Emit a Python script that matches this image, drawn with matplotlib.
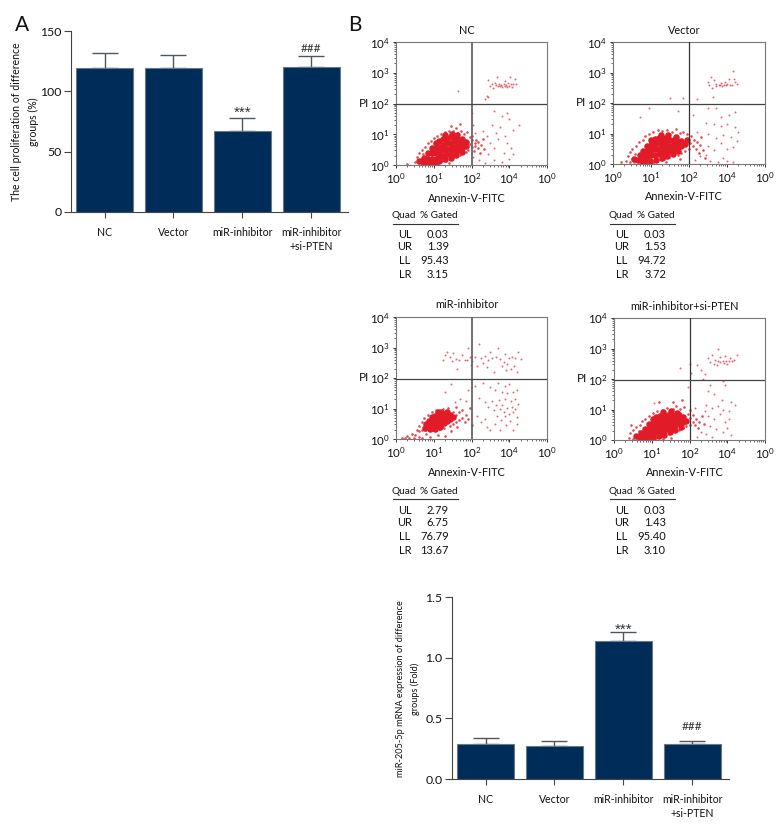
import matplotlib
matplotlib.use("Agg")
import matplotlib.pyplot as plt
import numpy as np

plt.rcParams["font.family"] = ["Lato", "Liberation Sans", "DejaVu Sans"]
plt.rcParams["mathtext.default"] = "regular"

W, H = 780, 840

GROUPS = ["NC", "Vector", "miR-inhibitor", "miR-inhibitor\n+si-PTEN"]
PROLIF = [119, 119, 67, 120]
PROLIF_TOP = [132, 130, 78, 129]
MIR = [0.29, 0.27, 1.135, 0.285]
MIR_TOP = [0.335, 0.31, 1.21, 0.315]

X_DECADES = ["$10^0$", "$10^1$", "$10^2$", "$10^4$", "$10^0$"]
Y_DECADES = ["$10^0$", "$10^1$", "$10^2$", "$10^3$", "$10^4$"]
QUADS = ["UL", "UR", "LL", "LR"]
NC_GATED = ["0.03", "1.39", "95.43", "3.15"]
VECTOR_GATED = ["0.03", "1.53", "94.72", "3.72"]
INHIB_GATED = ["2.79", "6.75", "76.79", "13.67"]
PTEN_GATED = ["0.03", "1.43", "95.40", "3.10"]

# flow plots, in decades. core = saturated part of the cloud, drawn with fat dots
NC_CORE = [(.62,.14),(.72,.1),(.82,.08),(.92,.08),(1.02,.08),(1.15,.12),(1.3,.18),(1.45,.24),(1.6,.32),(1.75,.42),
           (.75,.22),(.85,.2),(.85,.38),(.95,.2),(.95,.38),(.95,.55),(1.05,.2),(1.05,.38),(1.05,.55),(1.05,.7),
           (1.15,.25),(1.15,.42),(1.15,.6),(1.15,.78),(1.25,.3),(1.25,.48),(1.25,.65),(1.25,.85),(1.35,.35),(1.35,.52),
           (1.35,.7),(1.35,.88),(1.45,.38),(1.45,.55),(1.45,.72),(1.45,.9),(1.55,.42),(1.55,.6),(1.55,.78),(1.55,.9),
           (1.65,.5),(1.65,.65),(1.65,.82),(1.75,.55),(1.75,.72),(1.75,.85),(1.85,.62),(1.85,.75),(1.3,.98),(1.48,1.02),(1.62,.98)]
NC_HALO = [(.5,.1),(.55,.25),(.6,.05),(.6,.38),(.65,.18),(.68,.5),(.7,.08),(.72,.35),(.78,.6),(.82,.05),(.85,.7),(.9,.04),
           (.92,.78),(1,.08),(1,.88),(1.08,.95),(1.1,.06),(1.18,1),(1.22,.12),(1.3,1.08),(1.32,.14),(1.4,1.12),(1.42,.2),
           (1.5,1.1),(1.52,.25),(1.58,1.2),(1.6,.3),(1.65,1.05),(1.7,.32),(1.72,1.12),(1.78,.38),(1.8,1.02),(1.85,.42),
           (1.88,1.08),(1.92,.5),(1.95,.68),(1.95,.9),(2,.58),(2,.8),(2.02,.95),(2.06,.45),(2.08,.7),(2.1,.62),(2.12,.82),
           (2.16,.55),(2.18,.75),(2.22,.4),(2.25,.65),(2.3,.85),(2.32,.52),(1.45,1.28),(1.7,1.32),(.3,.03),(.95,.02),(1.4,.08)]
NC_SPARSE = [(2.45,2.75),(2.5,2.58),(2.55,2.62),(2.58,2.5),(2.62,2.68),(2.65,2.6),(2.68,2.85),(2.7,2.56),(2.72,2.62),
             (2.75,2.58),(2.78,2.6),(2.82,2.55),(2.85,2.62),(2.88,2.57),(2.9,2.72),(2.92,2.6),(2.95,2.53),(2.98,2.66),
             (3,2.58),(3.02,2.85),(3.05,2.62),(3.08,2.55),(3.1,2.65),(3.14,2.8),(3.18,2.62),(2.35,2.15),(2.45,2.2),(2.4,2.25),
             (1.65,2.4),(2.6,1.75),(2.8,1.6),(2.95,1.7),(3,1.5),(2.55,1.3),(2.65,1.05),(2.75,1.25),(2.9,.95),(3.1,1.15),
             (3.25,1.3),(2.5,.7),(2.6,.55),(2.7,.85),(2.85,.4),(2.95,.7),(3.05,.55),(3.1,.35),(2.45,.35),(2.6,.15),(2.8,.1),
             (3,.2),(2.05,.25),(2.2,.15),(2.35,.08),(2.4,.95),(2.3,1.1),(2.1,1.05),(2.02,1.7),(2.05,1.3)]

VECTOR_CORE = [(.55,.15),(.65,.12),(.75,.1),(.85,.1),(.98,.1),(1.12,.14),(1.28,.2),(1.42,.26),(1.58,.34),(1.72,.42),
               (.7,.28),(.8,.25),(.8,.42),(.9,.25),(.9,.42),(.9,.58),(1,.28),(1,.45),(1,.62),(1,.78),(1.1,.3),(1.1,.48),
               (1.1,.65),(1.1,.82),(1.2,.32),(1.2,.5),(1.2,.68),(1.2,.85),(1.3,.35),(1.3,.52),(1.3,.7),(1.3,.85),(1.4,.38),
               (1.4,.55),(1.4,.72),(1.4,.85),(1.5,.42),(1.5,.6),(1.5,.78),(1.6,.48),(1.6,.65),(1.6,.8),(1.7,.55),(1.7,.72),
               (1.8,.6),(1.8,.75),(1.9,.65),(1.95,.78),(1.25,.95),(1.45,.95),(1.65,.9)]
VECTOR_HALO = [(.35,.1),(.4,.25),(.45,.05),(.45,.38),(.5,.18),(.5,.5),(.55,.08),(.58,.32),(.6,.6),(.65,.05),(.68,.72),(.75,.04),
               (.78,.8),(.85,.06),(.85,.92),(.95,1),(1,.08),(1.05,1.05),(1.12,.12),(1.18,1.1),(1.25,.12),(1.3,1.08),(1.35,.18),
               (1.42,1.12),(1.48,.22),(1.55,1.05),(1.6,.28),(1.65,1.15),(1.7,.3),(1.75,1.02),(1.8,.35),(1.85,1.05),(1.9,.42),
               (1.95,.98),(2,.5),(2.02,.7),(2.05,.92),(2.1,.6),(2.12,.8),(2.18,.5),(2.2,.72),(2.25,.35),(2.28,.62),(2.32,.88),
               (2.38,.45),(2.42,.2),(1.05,.02),(.2,.06),(1.4,.05),(1.75,.15)]
VECTOR_SPARSE = [(2.5,2.7),(2.52,2.58),(2.58,2.85),(2.6,2.48),(2.65,2.75),(2.7,2.55),(2.72,2.62),(2.78,2.58),(2.82,2.58),
                 (2.85,2.65),(2.88,2.56),(2.92,2.6),(2.95,2.7),(2.98,2.58),(3,2.62),(3.05,2.8),(3.08,2.6),(3.12,2.58),
                 (3.15,3.05),(3.18,2.78),(3.22,2.7),(3.25,2.62),(2.62,2.2),(1.5,2.15),(1.85,2.15),(2.2,2.12),(.95,1.85),(.7,1.55),
                 (1.7,1.75),(2.1,1.6),(2.5,1.82),(2.7,1.85),(2.85,1.55),(3.05,1.6),(3.2,1.7),(2.45,1.35),(2.65,1.3),(2.85,1.25),
                 (3,1.3),(3.2,1.2),(3.3,1.05),(2.5,1),(2.7,.85),(2.9,.95),(3.1,.9),(3.25,.75),(2.5,.6),(2.65,.45),(2.85,.7),
                 (3,.5),(3.15,.55),(2.45,.3),(2.55,.1),(2.75,.05),(2.9,.2),(3,.1),(3.15,.05),(2.15,.12),(2.3,.25),(2.2,1.05)]

INHIB_CORE = [(.8,.5),(.88,.42),(.88,.6),(.96,.42),(.96,.58),(.96,.72),(1.04,.45),(1.04,.6),(1.04,.75),(1.12,.45),(1.12,.6),
              (1.12,.75),(1.12,.88),(1.2,.48),(1.2,.62),(1.2,.76),(1.2,.9),(1.28,.52),(1.28,.68),(1.28,.82),(1.36,.6),(1.36,.75),
              (1.36,.9),(1.44,.65),(1.44,.8),(.78,.36),(.9,.32),(1.02,.34),(1.16,.38),(1.52,.72)]
INHIB_HALO = [(.55,.3),(.6,.42),(.62,.25),(.68,.55),(.7,.3),(.75,.68),(.78,.3),(.85,.78),(.88,.28),(.95,.88),(1,.3),(1.05,.95),
              (1.15,.32),(1.25,1),(1.28,.36),(1.38,1.02),(1.42,.42),(1.52,.5),(1.52,.7),(1.52,.9),(1.6,.55),(1.6,.78),(1.6,1.05),
              (1.68,.62),(1.68,.88),(1.75,.7),(1.75,.95),(1.82,.55),(1.85,.8),(1.9,.65),(1.95,1.02),(2,.45),(1.45,.25),(1.62,.38),
              (.3,.1),(.35,.04),(.42,.18),(.48,.02),(.5,.12),(.6,.08),(.7,.03),(.8,.15),(.15,.02),(.25,.03),(.9,.05),(1.1,.12),(1.3,.1)]
INHIB_SPARSE = [(1.25,2.6),(1.3,2.75),(1.35,2.85),(1.42,2.7),(1.48,2.55),(1.52,2.82),(1.58,2.62),(1.62,2.3),(1.68,2.6),(1.75,2.75),
                (1.82,2.6),(1.88,2.58),(1.92,3),(1.95,2.7),(1.98,2.42),(2.02,2.55),(2.08,2.68),(2.15,2.4),(2.2,3.1),(2.25,2.65),
                (2.3,2.5),(2.35,2.72),(2.42,2.35),(2.45,2.58),(2.5,2.85),(2.55,2.65),(2.6,2.2),(2.65,2.7),(2.7,3),(2.75,2.62),
                (2.8,2.4),(2.85,2.52),(2.88,2.8),(2.92,2.25),(2.95,2.45),(3,2.65),(3.05,2.3),(3.08,2.7),(3.12,2.38),(3.15,2.65),
                (3.2,2.2),(3.22,2.85),(3.3,2.62),(2.1,1.75),(2.3,1.85),(2.5,1.7),(2.62,1.6),(2.7,1.85),(2.82,1.55),(2.88,1.75),
                (2.95,1.5),(3,1.8),(3.05,1.25),(3.1,1.55),(3.15,1.3),(3.2,1.6),(2.2,1.35),(2.35,1.2),(2.45,1.05),(2.55,1.25),
                (2.6,.95),(2.65,1.12),(2.68,.75),(2.72,1.28),(2.75,1),(2.78,.62),(2.82,1.12),(2.85,.9),(2.88,.75),(2.9,1.3),
                (2.95,1.02),(3,.82),(3.02,.6),(3.06,1.05),(3.1,.9),(3.15,1),(3.2,.72),(3.22,1.15),(2.15,.75),(2.25,.55),
                (2.35,.65),(2.42,.4),(2.5,.3),(2.62,.5),(2.75,.28),(2.92,.45),(3.1,.3),(3.2,.5),(1.3,1.55),(1.45,1.8),(1.7,1.3),
                (1.9,1.6),(1.55,1.2),(1.85,1.25)]

PTEN_CORE = [(.58,.14),(.68,.1),(.78,.08),(.9,.08),(1.02,.1),(1.18,.14),(1.32,.18),(1.48,.26),(1.62,.34),(1.78,.44),
             (.72,.22),(.82,.2),(.82,.36),(.92,.2),(.92,.36),(.92,.52),(1.02,.22),(1.02,.38),(1.02,.54),(1.02,.68),(1.12,.25),
             (1.12,.42),(1.12,.58),(1.12,.74),(1.22,.28),(1.22,.45),(1.22,.62),(1.22,.78),(1.32,.32),(1.32,.5),(1.32,.66),(1.32,.8),
             (1.42,.36),(1.42,.54),(1.42,.7),(1.42,.82),(1.52,.42),(1.52,.6),(1.52,.76),(1.52,.85),(1.62,.48),(1.62,.65),(1.62,.8),
             (1.72,.55),(1.72,.72),(1.72,.82),(1.82,.6),(1.82,.75),(1.92,.62),(1.3,.92),(1.5,.95),(1.68,.9)]
PTEN_HALO = [(.4,.08),(.42,.22),(.5,.04),(.5,.34),(.55,.15),(.58,.42),(.62,.05),(.65,.3),(.68,.5),(.72,.03),(.75,.62),(.8,.05),
             (.82,.7),(.9,.06),(.92,.78),(1,.08),(1.02,.88),(1.1,.08),(1.15,.95),(1.22,.12),(1.28,1),(1.35,.15),(1.4,1.05),(1.45,.2),
             (1.55,1.02),(1.6,.28),(1.65,1.1),(1.72,.32),(1.75,1.02),(1.82,.38),(1.85,1.08),(1.92,.45),(1.95,.85),(2,.5),(2,.72),
             (2.02,.98),(2.08,.6),(2.1,.82),(2.15,.48),(2.18,.7),(2.22,.4),(2.25,.6),(2.32,.78),(2.38,.52),(1.2,1.25),(1.55,1.25),
             (1.8,1.3),(.45,.5),(1.3,.04),(1.5,.08)]
PTEN_SPARSE = [(2.5,2.7),(2.55,2.55),(2.6,2.78),(2.65,2.5),(2.68,2.62),(2.72,2.45),(2.75,2.58),(2.8,2.72),(2.82,2.56),(2.88,2.6),
               (2.92,2.52),(2.95,2.75),(2.98,2.6),(3,2.48),(3.05,2.6),(3.08,2.7),(3.12,2.58),(3.18,2.62),(3.25,2.8),(2.75,2.98),
               (2.3,2.3),(2.2,2.45),(2.4,2.15),(2.05,2.2),(1.75,2.35),(2,2.5),(2.35,2),(2.55,1.8),(2.9,1.95),(2.95,1.8),(1.05,1.2),
               (2.5,1.6),(2.65,1.5),(2.85,1.3),(3.1,1.25),(3.2,1.15),(2.45,1.15),(2.6,1.05),(2.75,1.1),(2.9,1),(3.05,.95),(2.5,.8),
               (2.65,.7),(2.8,.85),(2.95,.6),(3.05,.7),(2.55,.45),(2.7,.35),(2.9,.25),(3.1,.15),(2.45,.2),(2.6,.1),(3,.4),(2.2,.1),
               (2.3,.25),(2.15,1.05),(1.95,1.75),(2.4,.95)]


def to_fig(x, y):
    return x / W, 1 - y / H


def px_axes(fig, left, top, right, bottom):
    return fig.add_axes([left / W, 1 - bottom / H, (right - left) / W, (bottom - top) / H])


def px_text(fig, x, y, s, **kw):
    fx, fy = to_fig(x, y)
    kw.setdefault("ha", "center")
    kw.setdefault("va", "center")
    kw.setdefault("color", "#111111")
    fig.text(fx, fy, s, **kw)


def bar_panel(fig, box, values, tops, yticks, yticklabels, ymax, marks, ylabel, ylab_x, ylab_y, ylab_size):
    ax = px_axes(fig, *box)
    pos = np.arange(len(values))
    ax.bar(pos, values, width=0.83, color="#002c5a", edgecolor="#6c7884", linewidth=0.8, zorder=2)
    errs = np.array(tops) - np.array(values)
    ax.errorbar(pos, values, yerr=[np.zeros(len(errs)), errs], fmt="none", ecolor="#4d5761",
                elinewidth=1, capsize=9.7, capthick=1, zorder=1)
    ax.set_xlim(-0.486, 3.53)
    ax.set_ylim(0, ymax)
    ax.set_xticks(pos)
    ax.set_xticklabels(GROUPS, fontsize=7.6, linespacing=1.25, color="#111111")
    ax.set_yticks(yticks)
    ax.set_yticklabels(yticklabels, fontsize=8.8, color="#111111")
    ax.tick_params(axis="x", length=4, width=0.8, color="#444444", pad=7)
    ax.tick_params(axis="y", length=5, width=0.8, color="#444444", pad=2)
    ax.spines[["top", "right"]].set_visible(False)
    ax.spines[["left", "bottom"]].set_color("#444444")
    ax.spines[["left", "bottom"]].set_linewidth(0.8)
    for i, mark, off, family in marks:
        ax.annotate(mark, (i, tops[i]), xytext=(0, off), textcoords="offset points", family=family,
                    ha="center", va="center", fontsize=11 if mark == "***" else 8.5, color="#333333")
    px_text(fig, ylab_x, ylab_y, ylabel, rotation=90, fontsize=ylab_size, linespacing=1.6)


def flow_panel(fig, box, gate, core, halo, sparse, title, gated, tx, row_ys, head_y, gate_style):
    left, top, right, bottom = box
    ax = px_axes(fig, *box)
    red = "#e11b28"
    ax.scatter(*zip(*core), s=22, color=red, linewidths=0, zorder=2)
    ax.scatter(*zip(*halo), s=3.5, color=red, alpha=0.8, linewidths=0, zorder=2)
    ax.scatter(*zip(*sparse), s=2, color="#d8283c", alpha=0.7, linewidths=0, zorder=2)
    ax.axvline(gate[0], zorder=3, **gate_style)
    ax.axhline(gate[1], zorder=3, color="#444444", lw=0.9)
    ax.set_xlim(0, 4)
    ax.set_ylim(0, 4)
    ax.set_xticks(range(5))
    ax.set_xticklabels(X_DECADES, fontsize=8.3, color="#111111")
    ax.set_yticks(range(5))
    ax.set_yticklabels(Y_DECADES, fontsize=8.3, color="#111111")
    minor = [d + np.log10(k) for d in range(4) for k in range(2, 10)]
    ax.set_xticks(minor, minor=True)
    ax.set_yticks(minor, minor=True)
    ax.tick_params(axis="both", which="major", length=2.5, width=0.7, pad=2, color="#333333")
    ax.tick_params(axis="both", which="minor", length=1.2, width=0.5, color="#333333")
    for side in ax.spines.values():
        side.set_color("#777777")
        side.set_linewidth(0.8)

    cx = (left + right) / 2 - 5
    px_text(fig, cx, top - 12, title, fontsize=7.8)
    px_text(fig, cx, bottom + 33, "Annexin-V-FITC", fontsize=7.8)
    px_text(fig, left - 32, top + (bottom - top) / 2, "PI", fontsize=8.5)

    px_text(fig, tx + 11, head_y, "Quad", fontsize=7.2)
    px_text(fig, tx + 46, head_y, "% Gated", fontsize=7.2)
    fig.add_artist(plt.Line2D([tx / W, (tx + 65) / W], [to_fig(0, head_y + 8)[1]] * 2, color="#333333", lw=0.8))
    for q, val, y in zip(QUADS, gated, row_ys):
        px_text(fig, tx + 12, y, q, fontsize=8)
        px_text(fig, tx + 56, y, val, fontsize=8, ha="right")


def main() -> None:
    fig = plt.figure(figsize=(W / 100, H / 100), dpi=100, facecolor="white")

    px_text(fig, 22, 25, "A", fontsize=15)
    px_text(fig, 355, 25, "B", fontsize=15)

    bar_panel(fig, (71, 31, 348, 212), PROLIF, PROLIF_TOP, [0, 50, 100, 150], ["0", "50", "100", "150"], 150,
              [(2, "***", 4, "Liberation Sans"), (3, "###", 6, "Lato")],
              "The cell proliferation of difference\ngroups (%)", 25, 122, 7.6)
    bar_panel(fig, (452, 597, 729, 779), MIR, MIR_TOP, [0, 0.5, 1.0, 1.5], ["0.0", "0.5", "1.0", "1.5"], 1.5,
              [(2, "***", 2, "Liberation Sans"), (3, "###", 10, "Lato")],
              "miR-205-5p mRNA expression of difference\ngroups (Fold)", 408, 689, 6.6)

    row1 = [234, 247, 261, 274]
    row2 = [510, 523, 537, 550]
    thick = {"color": "#666666", "lw": 1.3}
    thin = {"color": "#333333", "lw": 0.9}
    flow_panel(fig, (396, 42, 547, 165), (2.0, 2.0), NC_CORE, NC_HALO, NC_SPARSE, "NC", NC_GATED, 393, row1, 216, thick)
    flow_panel(fig, (613, 42, 765, 164), (2.0, 1.98), VECTOR_CORE, VECTOR_HALO, VECTOR_SPARSE, "Vector", VECTOR_GATED, 610, row1, 216, thin)
    flow_panel(fig, (396, 317, 547, 439), (2.0, 1.98), INHIB_CORE, INHIB_HALO, INHIB_SPARSE, "miR-inhibitor", INHIB_GATED, 393, row2, 491, thick)
    flow_panel(fig, (614, 318, 765, 440), (2.02, 1.96), PTEN_CORE, PTEN_HALO, PTEN_SPARSE, "miR-inhibitor+si-PTEN", PTEN_GATED, 610, row2, 491, thin)

    fig.savefig("out.png", dpi=100)


if __name__ == "__main__":
    main()
